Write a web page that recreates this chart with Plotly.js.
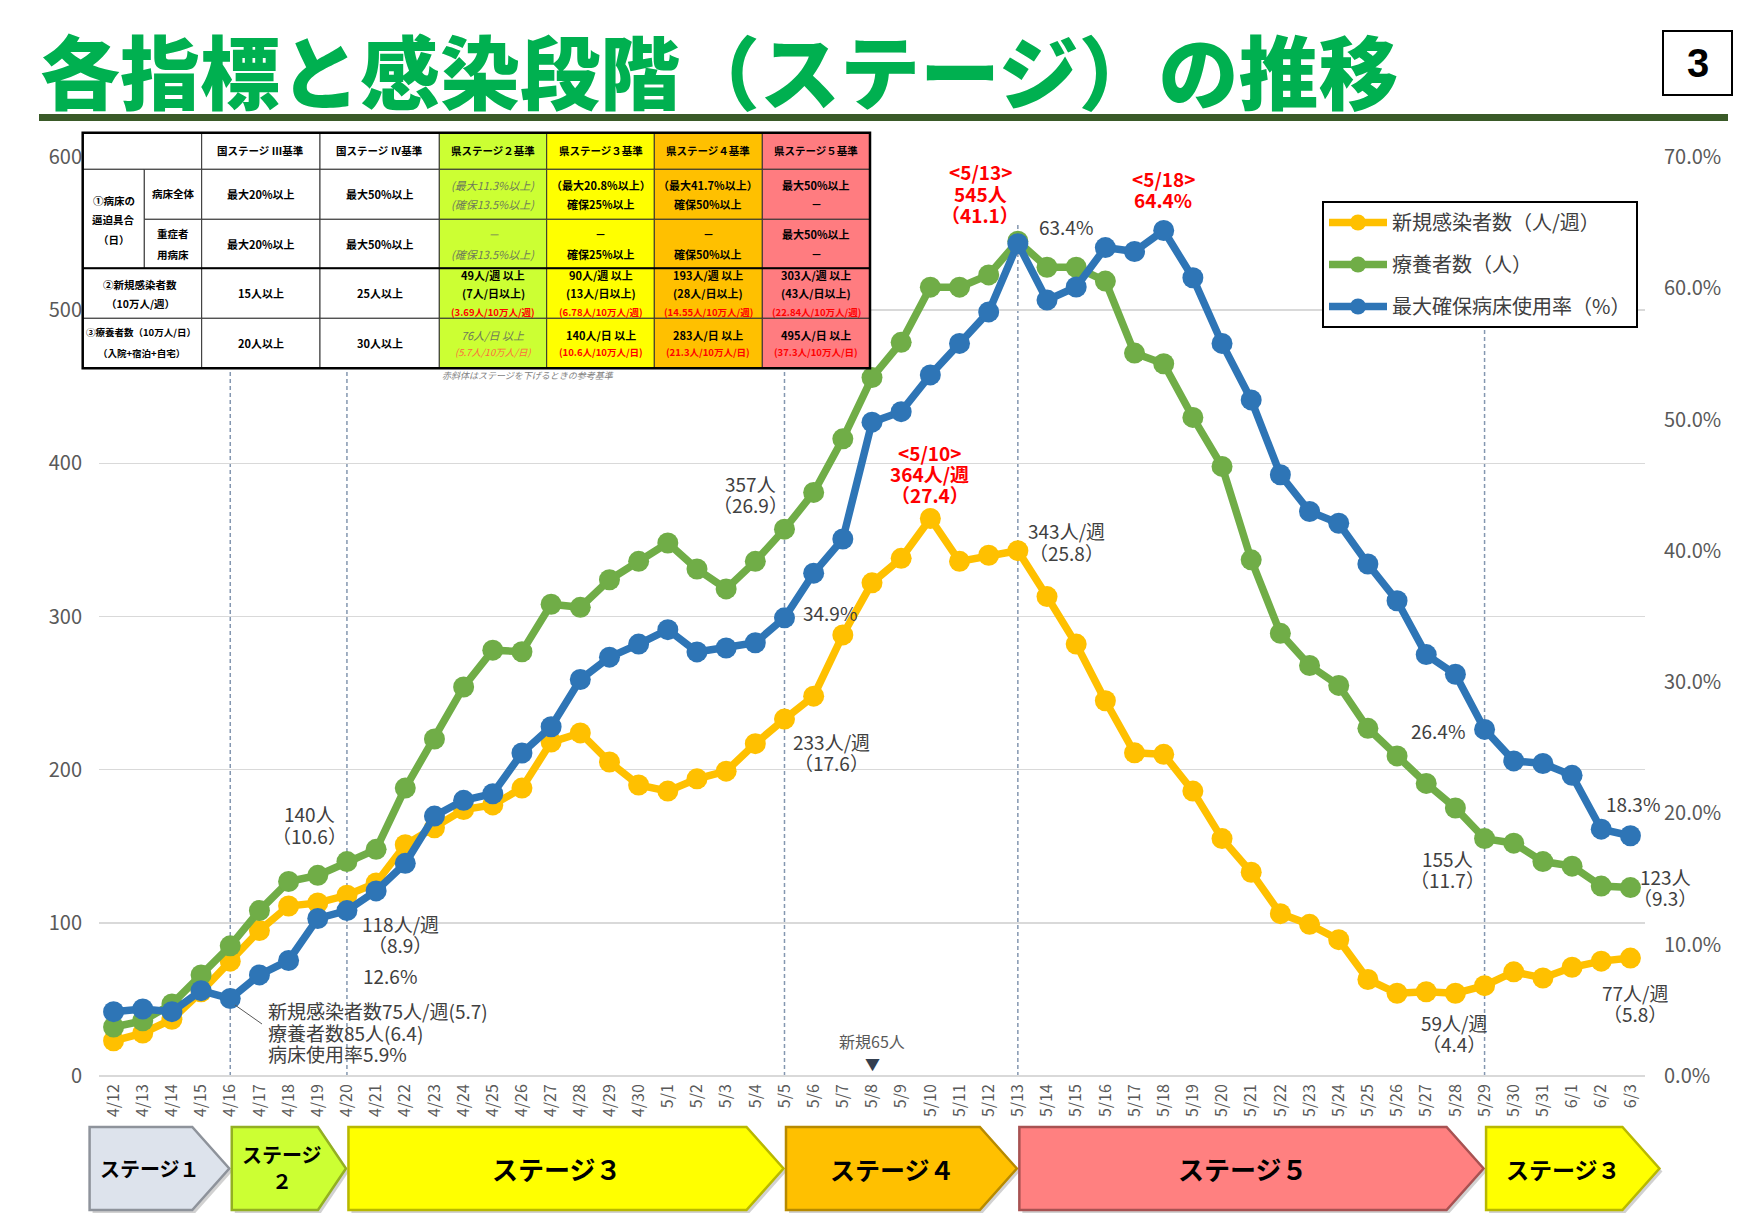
<!DOCTYPE html>
<html><head><meta charset="utf-8">
<script src="https://cdn.plot.ly/plotly-3.0.1.min.js"></script>
<style>html,body{margin:0;padding:0;background:#fff}</style>
</head><body>
<div id="chart" style="width:1754px;height:1227px"></div>
<script>
// ---------------- DATA ----------------
const dates = ['4/12','4/13','4/14','4/15','4/16','4/17','4/18','4/19','4/20','4/21','4/22','4/23','4/24','4/25','4/26','4/27','4/28','4/29','4/30',
  '5/1','5/2','5/3','5/4','5/5','5/6','5/7','5/8','5/9','5/10','5/11','5/12','5/13','5/14','5/15','5/16','5/17','5/18','5/19','5/20',
  '5/21','5/22','5/23','5/24','5/25','5/26','5/27','5/28','5/29','5/30','5/31','6/1','6/2','6/3'];
// 新規感染者数（人/週）
const newCases = [23,28,37,55,75,95,111,113,118,126,151,162,174,177,188,218,224,205,190,
  186,194,199,217,233,248,288,322,338,364,336,340,343,313,282,245,211,210,186,155,
  133,106,99,89,63,54,55,54,59,68,64,71,75,77];
// 療養者数（人）
const patients = [32,36,47,66,85,108,127,131,140,148,188,220,254,278,277,308,306,324,336,
  348,331,318,336,357,381,416,456,479,515,515,523,545,528,528,519,472,465,430,398,
  337,289,268,255,227,209,191,175,155,152,140,137,124,123];
// 最大確保病床使用率（%）
const bedRate = [4.9,5.1,4.9,6.5,5.9,7.7,8.8,12.0,12.6,14.1,16.2,19.8,21.0,21.5,24.6,26.6,30.2,31.9,32.9,
  34.0,32.3,32.6,33.0,34.9,38.3,40.9,49.8,50.6,53.4,55.8,58.2,63.4,59.1,60.1,63.1,62.8,64.4,60.8,55.8,
  51.5,45.8,43.0,42.1,39.0,36.2,32.1,30.6,26.4,24.0,23.8,22.9,18.8,18.3];
const seriesNames = ['新規感染者数（人/週）','療養者数（人）','最大確保病床使用率（%）'];

// stages
const stageLabels = [['ステージ１'],['ステージ','２'],['ステージ３'],['ステージ４'],['ステージ５'],['ステージ３']];
const stageStart = ['4/12','4/16','4/20','5/5','5/13','5/29'];
const stageEnd   = ['4/16','4/20','5/5','5/13','5/29','6/3'];
const stageMarkDates = ['4/16','4/20','5/5','5/13','5/29'];

// criteria table
const tblHeader = ['国ステージ Ⅲ基準','国ステージ Ⅳ基準','県ステージ２基準','県ステージ３基準','県ステージ４基準','県ステージ５基準'];
const tblRows = [
  [['最大20%以上'],['最大50%以上'],['~(最大11.3%以上)','~(確保13.5%以上)'],['（最大20.8%以上）','確保25%以上'],['（最大41.7%以上）','確保50%以上'],['最大50%以上','－']],
  [['最大20%以上'],['最大50%以上'],['~－','~(確保13.5%以上)'],['－','確保25%以上'],['－','確保50%以上'],['最大50%以上','－']],
  [['15人以上'],['25人以上'],['49人/週 以上','(7人/日以上)','!(3.69人/10万人/週)'],['90人/週 以上','(13人/日以上)','!(6.78人/10万人/週)'],['193人/週 以上','(28人/日以上)','!(14.55人/10万人/週)'],['303人/週 以上','(43人/日以上)','!(22.84人/10万人/週)']],
  [['20人以上'],['30人以上'],['~76人/日 以上','~!(5.7人/10万人/日)'],['140人/日 以上','!(10.6人/10万人/日)'],['283人/日 以上','!(21.3人/10万人/日)'],['495人/日 以上','!(37.3人/10万人/日)']]
];
const tblNote = '赤斜体はステージを下げるときの参考基準';

// ---------------- LAYOUT HELPERS ----------------
const FONT = '"Noto Sans CJK JP", "Noto Sans", sans-serif';
const PL = 99, PR = 1645, PT = 157, PB = 1076;
const X = px => (px - PL) / (PR - PL);
const Y = py => (PB - py) / (PB - PT);
const catW = (PR - PL) / dates.length;
const catPx = d => PL + (dates.indexOf(d) + 0.5) * catW;

const shapes = [];
const ann = [];
function rect(x0, y0, x1, y1, fill, lc, lw, layer) {
  shapes.push({type:'rect', xref:'paper', yref:'paper', x0:X(x0), x1:X(x1), y0:Y(y0), y1:Y(y1),
    fillcolor:fill, line:{color:lc || 'rgba(0,0,0,0)', width:lw || 0}, layer:layer || 'above'});
}
function line(x0, y0, x1, y1, color, width, dash, layer) {
  shapes.push({type:'line', xref:'paper', yref:'paper', x0:X(x0), x1:X(x1), y0:Y(y0), y1:Y(y1),
    line:{color, width, dash:dash || 'solid'}, layer:layer || 'above'});
}
function txt(t, px, py, o) {
  o = o || {};
  ann.push({xref:'paper', yref:'paper', x:X(px), y:Y(py), text:t, showarrow:false,
    xanchor:o.anchor || 'center', yanchor:'middle',
    font:{family:o.family || FONT, size:o.size || 19, color:o.color || '#404040',
      weight:o.weight || 'normal', style:o.style || 'normal'}});
}
function lines(arr, px, pys, o) { arr.forEach((t, k) => txt(t, px, pys[k], o)); }

// ---------------- TITLE ----------------
txt('各指標と感染段階（ステージ）の推移', 38, 68, {anchor:'left', size:80, weight:900, color:'#00B050'});
rect(39, 114, 1728, 121, '#3A5A28');
rect(1663, 31, 1732, 95, '#FFFFFF', '#000000', 2);
txt('3', 1697.5, 63, {size:40, weight:'bold', color:'#000', family:'"Liberation Sans", Arial, sans-serif'});

// ---------------- TABLE ----------------
const C = [82.7, 144.3, 201.7, 320, 439.3, 546.7, 654.3, 762.3, 870];
const R = [132.7, 169.3, 219.3, 268.3, 318.3, 368.3];
const colFill = ['#FFFFFF','#FFFFFF','#CCFF33','#FFFF00','#FFC000','#FF7C80'];
const TL = '#333333';
rect(C[0], R[0], C[2], R[1], '#FFFFFF', TL, 1);
rect(C[0], R[1], C[1], R[3], '#FFFFFF', TL, 1);
rect(C[1], R[1], C[2], R[2], '#FFFFFF', TL, 1);
rect(C[1], R[2], C[2], R[3], '#FFFFFF', TL, 1);
rect(C[0], R[3], C[2], R[4], '#FFFFFF', TL, 1);
rect(C[0], R[4], C[2], R[5], '#FFFFFF', TL, 1);
for (let r = 0; r < 5; r++) for (let c = 0; c < 6; c++) rect(C[c+2], R[r], C[c+3], R[r+1], colFill[c], TL, 1);
rect(C[0], R[0], C[8], R[5], 'rgba(0,0,0,0)', '#000000', 2.5);
line(C[0], R[3], C[8], R[3], '#000', 2);

const tf = {size:10.5, color:'#000', weight:'bold'};
tblHeader.forEach((h, c) => txt(h, (C[c+2] + C[c+3]) / 2, (R[0] + R[1]) / 2, tf));
lines(['①病床の','逼迫具合','（日）'], 113.5, [200, 219.5, 239.5], tf);
txt('病床全体', 173, 193.5, tf);
lines(['重症者','用病床'], 173, [233.5, 254], tf);
lines(['②新規感染者数','（10万人/週）'], 140, [284, 303.5], tf);
lines(['③療養者数（10万人/日）','（入院+宿泊+自宅）'], 141, [332, 352.5], Object.assign({}, tf, {size:9.5}));
const gaps = [19.5, 19.5, 18.5, 17];
tblRows.forEach((row, r) => {
  const cy = (R[r+1] + R[r+2]) / 2;
  row.forEach((cell, c) => {
    const cx = (C[c+2] + C[c+3]) / 2;
    const n = cell.length, g = gaps[r];
    cell.forEach((s, k) => {
      let italic = false, red = false;
      while (s[0] === '~' || s[0] === '!') { if (s[0] === '~') italic = true; else red = true; s = s.slice(1); }
      const o = {size: red ? 9.5 : 11, weight: italic ? 'normal' : 'bold',
        style: italic ? 'italic' : 'normal',
        color: red ? (italic ? '#FF6A3D' : '#FF0000') : (italic ? '#6E7A5A' : '#000')};
      txt(s, cx, cy + (k - (n - 1) / 2) * g, o);
    });
  });
});
txt(tblNote, 440, 375, {anchor:'left', size:9, style:'italic', color:'#7F7F7F'});

// ---------------- STAGE MARK LINES ----------------
const markTop = {'4/16':368, '4/20':368, '5/5':368, '5/13':222, '5/29':328};
stageMarkDates.forEach(d => {
  shapes.push({type:'line', xref:'x', yref:'paper', x0:d, x1:d, y0:0, y1:Y(markTop[d]),
    line:{color:'#8497B0', width:1.5, dash:'4px,3px'}, layer:'below'});
});

// ---------------- STAGE ARROWS ----------------
const stFill = ['#DDE3EC','#CCFF33','#FFFF00','#FFC000','#FF8080','#FFFF00'];
const stEdge = ['#8E939B','#93B022','#B8B800','#B78A00','#A85252','#B8B800'];
const stSize = [20, 20, 26, 25, 26, 23];
const yT = 1127, yB = 1210, yM = (yT + yB) / 2;
stageStart.forEach((s, i) => {
  const x0 = i === 0 ? catPx(s) - 24 : catPx(s) + 1.5;
  const x1 = i === stageEnd.length - 1 ? catPx(stageEnd[i]) + 29 : catPx(stageEnd[i]) - 1;
  const h = i === 1 ? 28 : 37;
  const p = `M ${X(x0)},${Y(yT)} L ${X(x1-h)},${Y(yT)} L ${X(x1)},${Y(yM)} L ${X(x1-h)},${Y(yB)} L ${X(x0)},${Y(yB)} Z`;
  const ps = `M ${X(x0+3)},${Y(yT+3)} L ${X(x1-h+3)},${Y(yT+3)} L ${X(x1+3)},${Y(yM+3)} L ${X(x1-h+3)},${Y(yB+3)} L ${X(x0+3)},${Y(yB+3)} Z`;
  shapes.push({type:'path', xref:'paper', yref:'paper', path:ps, fillcolor:'rgba(0,0,0,0.18)', line:{width:0}, layer:'above'});
  shapes.push({type:'path', xref:'paper', yref:'paper', path:p, fillcolor:stFill[i], line:{color:stEdge[i], width:2.5}, layer:'above'});
  const cx = (x0 + x1 - h / 2) / 2;
  const lab = stageLabels[i];
  const o = {size:stSize[i], weight:'bold', color:'#000'};
  if (lab.length === 1) txt(lab[0], cx, yM, o);
  else lines(lab, cx, [yM - 14, yM + 12], o);
});

// ---------------- DATA LABELS ----------------
const G = {size:19, color:'#404040'};
const RB = {size:19, color:'#FF0000', weight:'bold'};
lines(['140人','（10.6）'], 309, [813, 835], G);
lines(['118人/週','（8.9）'], 400, [923, 944], G);
txt('12.6%', 390, 975, G);
lines(['新規感染者数75人/週(5.7)','療養者数85人(6.4)','病床使用率5.9%'], 266, [1010, 1032, 1053], Object.assign({anchor:'left'}, G));
line(235, 1005, 262, 1024, '#595959', 1);
lines(['357人','（26.9）'], 750, [483, 504], G);
txt('34.9%', 830, 612, G);
lines(['233人/週','（17.6）'], 831, [741, 762], G);
lines(['&lt;5/10&gt;','364人/週','（27.4）'], 930, [452, 473, 494], RB);
lines(['&lt;5/13&gt;','545人','（41.1）'], 980, [172, 193, 214], RB);
txt('63.4%', 1066, 226, G);
lines(['&lt;5/18&gt;','64.4%'], 1163, [178, 199], RB);
lines(['343人/週','（25.8）'], 1066, [530, 552], G);
txt('26.4%', 1438, 730, G);
lines(['155人','（11.7）'], 1447, [858, 879], G);
lines(['59人/週','（4.4）'], 1454, [1022, 1043], G);
txt('18.3%', 1633, 803, G);
lines(['123人','（9.3）'], 1665, [876, 897], G);
lines(['77人/週','（5.8）'], 1635, [992, 1013], G);
txt('新規65人', catPx('5/8'), 1041, {size:16, color:'#595959'});
txt('▼', catPx('5/8'), 1063, {size:15, color:'#333F50'});

// ---------------- TRACES ----------------
const mk = (name, y, color, yaxis, grp) => ({
  type:'scatter', mode:'lines+markers', x:dates, y, name, yaxis, legendgroup:grp,
  line:{color, width:7.5}, marker:{color, size:21}, hoverinfo:'skip'
});
const data = [
  mk(seriesNames[0], newCases, '#FFC000', 'y', 'a'),
  mk(seriesNames[1], patients, '#70AD47', 'y', 'b'),
  mk(seriesNames[2], bedRate, '#2E75B6', 'y2', 'c')
];

const layout = {
  width:1754, height:1227,
  margin:{l:PL, r:1754 - PR, t:PT, b:1227 - PB},
  paper_bgcolor:'#FFFFFF', plot_bgcolor:'#FFFFFF',
  font:{family:FONT, color:'#595959'},
  showlegend:true,
  legend:{x:X(1322), y:Y(201), xanchor:'left', yanchor:'top', bgcolor:'#FFFFFF',
    bordercolor:'#000000', borderwidth:2, font:{size:20, color:'#404040'},
    tracegroupgap:13, traceorder:'grouped', itemwidth:58},
  xaxis:{type:'category', range:[-0.5, dates.length - 0.5], tickangle:-90,
    tickfont:{size:16, color:'#595959'}, showgrid:false, showline:false, zeroline:false,
    ticks:'', ticklabelstandoff:4, fixedrange:true},
  yaxis:{range:[0, 600], tick0:0, dtick:100, gridcolor:'#D9D9D9', gridwidth:1.5,
    zeroline:true, zerolinecolor:'#D9D9D9', zerolinewidth:1.5, showline:false, ticks:'',
    tickfont:{size:20, color:'#595959'}, ticklabelstandoff:16, fixedrange:true},
  yaxis2:{range:[0, 70], tick0:0, dtick:10, overlaying:'y', side:'right', showgrid:false,
    zeroline:false, showline:false, ticks:'', tickformat:'.1f', ticksuffix:'%',
    tickfont:{size:20, color:'#595959'}, ticklabelstandoff:18, fixedrange:true},
  shapes, annotations:ann
};
Plotly.newPlot('chart', data, layout, {staticPlot:true, displayModeBar:false});
</script>
</body></html>
